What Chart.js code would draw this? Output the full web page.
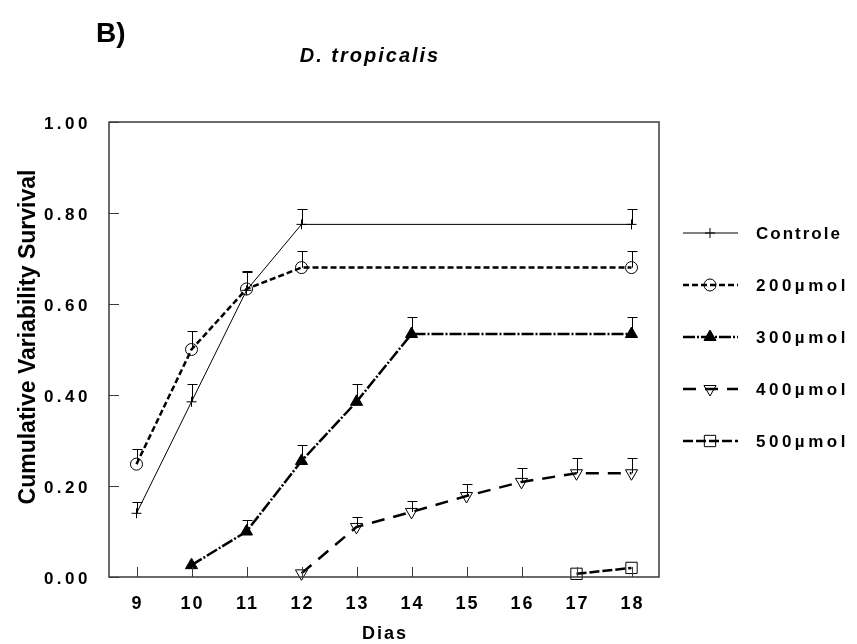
<!DOCTYPE html>
<html>
<head>
<meta charset="utf-8">
<script src="https://cdn.jsdelivr.net/npm/chart.js@4.4.1/dist/chart.umd.min.js"></script>
<style>
  html, body { margin: 0; padding: 0; background: #fff; }
  #wrap { width: 857px; height: 644px; position: relative; }
</style>
</head>
<body>
<div id="wrap"><canvas id="chart"></canvas></div>
<script>
// dias no eixo x e marcas do eixo y
const dias = [9, 10, 11, 12, 13, 14, 15, 16, 17, 18];
const yTicks = [0, 0.2, 0.4, 0.6, 0.8, 1.0];

// series (valor medio + erro superior)
const controleDias = [9, 10, 11, 12, 18];
const controle     = [0.14, 0.385, 0.63, 0.775, 0.775];
const controleErr  = [0.025, 0.04, 0.04, 0.034, 0.034];

const s200Dias = [9, 10, 11, 12, 18];
const s200     = [0.248, 0.50, 0.633, 0.68, 0.68];
const s200Err  = [0.033, 0.04, 0.04, 0.037, 0.037];

const s300Dias = [10, 11, 12, 13, 14, 18];
const s300     = [0.026, 0.10, 0.255, 0.385, 0.534, 0.534];
const s300Err  = [0, 0.025, 0.035, 0.04, 0.037, 0.037];

const s400Dias = [12, 13, 14, 15, 16, 17, 18];
const s400     = [0.008, 0.11, 0.143, 0.178, 0.209, 0.228, 0.228];
const s400Err  = [0, 0.022, 0.024, 0.026, 0.031, 0.034, 0.034];

const s500Dias = [17, 18];
const s500     = [0.007, 0.02];
const s500Err  = [0, 0];

const labels = ['Controle', '200µmol', '300µmol', '400µmol', '500µmol'];

const FONT = '"Liberation Sans", Arial, sans-serif';

function pts(xs, ys) {
  return xs.map((x, i) => ({ x: x, y: ys[i] }));
}

const series = [
  { data: pts(controleDias, controle), err: controleErr, width: 1, dash: [], style: 'cross', radius: 5, rot: 0, fill: 'rgba(0,0,0,0)' },
  { data: pts(s200Dias, s200), err: s200Err, width: 2.5, dash: [6, 3], style: 'circle', radius: 6, rot: 0, fill: 'rgba(0,0,0,0)' },
  { data: pts(s300Dias, s300), err: s300Err, width: 2.5, dash: [12, 2, 2, 2], style: 'triangle', radius: 7, rot: 0, fill: '#000' },
  { data: pts(s400Dias, s400), err: s400Err, width: 2.5, dash: [13, 9], style: 'triangle', radius: 7, rot: 180, fill: 'rgba(0,0,0,0)' },
  { data: pts(s500Dias, s500), err: s500Err, width: 2.5, dash: [10, 3], style: 'rect', radius: 8, rot: 0, fill: 'rgba(0,0,0,0)' }
];

const datasets = series.map((s, i) => ({
  label: labels[i],
  data: s.data,
  borderColor: '#000',
  borderWidth: s.width,
  borderDash: s.dash,
  pointStyle: s.style,
  pointRadius: s.radius,
  pointRotation: s.rot,
  pointBackgroundColor: s.fill,
  pointBorderColor: '#000',
  pointBorderWidth: 1,
  tension: 0,
  clip: false,
  fill: false
}));

function spaced(ctx, text, x, y, spacing) {
  ctx.letterSpacing = spacing + 'px';
  ctx.fillText(text, x, y);
  ctx.letterSpacing = '0px';
}

const decor = {
  id: 'decor',
  afterDatasetsDraw(chart) {
    const ctx = chart.ctx;
    const xs = chart.scales.x, ys = chart.scales.y;
    // barras de erro (so a parte superior)
    ctx.save();
    ctx.strokeStyle = '#000';
    ctx.lineWidth = 1;
    ctx.setLineDash([]);
    series.forEach(s => {
      s.data.forEach((p, i) => {
        if (!s.err[i]) return;
        const px = Math.round(xs.getPixelForValue(p.x)) + 0.5;
        const py = ys.getPixelForValue(p.y);
        const top = Math.round(ys.getPixelForValue(p.y + s.err[i])) + 0.5;
        ctx.beginPath();
        ctx.moveTo(px, py);
        ctx.lineTo(px, top);
        ctx.moveTo(px - 5, top);
        ctx.lineTo(px + 5, top);
        ctx.stroke();
      });
    });
    ctx.restore();
  },
  afterDraw(chart) {
    const ctx = chart.ctx;
    const a = chart.chartArea;
    const xs = chart.scales.x, ys = chart.scales.y;
    ctx.save();
    // caixa do grafico
    ctx.strokeStyle = '#3a3a3a';
    ctx.lineWidth = 1.5;
    ctx.setLineDash([]);
    ctx.strokeRect(a.left, a.top, a.right - a.left, a.bottom - a.top);
    // marcas internas
    ctx.lineWidth = 1;
    yTicks.forEach(v => {
      const y = Math.round(ys.getPixelForValue(v)) + 0.5;
      ctx.beginPath();
      ctx.moveTo(a.left, y);
      ctx.lineTo(a.left + 10, y);
      ctx.stroke();
    });
    dias.forEach(d => {
      const x = Math.round(xs.getPixelForValue(d)) + 0.5;
      ctx.beginPath();
      ctx.moveTo(x, a.bottom);
      ctx.lineTo(x, a.bottom - 10);
      ctx.stroke();
    });
    // rotulos
    ctx.fillStyle = '#000';
    ctx.font = 'bold 17px ' + FONT;
    ctx.textAlign = 'right';
    ctx.textBaseline = 'middle';
    yTicks.forEach(v => {
      spaced(ctx, v.toFixed(2), a.left - 18, ys.getPixelForValue(v) + 2, 3.5);
    });
    ctx.font = 'bold 18px ' + FONT;
    ctx.textAlign = 'center';
    ctx.textBaseline = 'alphabetic';
    dias.forEach(d => {
      spaced(ctx, String(d), xs.getPixelForValue(d) + 1, 609, 2);
    });
    spaced(ctx, 'Dias', (a.left + a.right) / 2 + 1, 639, 2);
    // titulo do eixo y
    ctx.save();
    ctx.translate(35, 337);
    ctx.rotate(-Math.PI / 2);
    ctx.font = 'bold 23px ' + FONT;
    ctx.textAlign = 'center';
    ctx.fillText('Cumulative Variability Survival', 0, 0);
    ctx.restore();
    // titulos
    ctx.font = 'bold 28px ' + FONT;
    ctx.textAlign = 'left';
    ctx.fillText('B)', 96, 42);
    ctx.font = 'italic bold 20px ' + FONT;
    ctx.textAlign = 'center';
    spaced(ctx, 'D. tropicalis', 370, 62, 2);
    // legenda
    const legY = [233, 285, 337, 389, 441];
    series.forEach((s, i) => {
      const y = legY[i];
      ctx.strokeStyle = '#000';
      ctx.lineWidth = s.width;
      ctx.setLineDash(s.dash);
      ctx.beginPath();
      ctx.moveTo(683, y);
      ctx.lineTo(738, y);
      ctx.stroke();
      ctx.setLineDash([]);
      ctx.lineWidth = 1;
      ctx.fillStyle = s.fill;
      Chart.helpers.drawPoint(ctx, { pointStyle: s.style, radius: s.radius, rotation: s.rot, borderWidth: 1 }, 710, y);
      ctx.fillStyle = '#000';
      ctx.font = 'bold 17px ' + FONT;
      ctx.textAlign = 'left';
      ctx.textBaseline = 'middle';
      spaced(ctx, labels[i], 756, y + 1, i === 0 ? 2 : 3.5);
    });
    ctx.restore();
  }
};

new Chart(document.getElementById('chart'), {
  type: 'line',
  data: { datasets: datasets },
  options: {
    responsive: true,
    maintainAspectRatio: false,
    animation: false,
    layout: { padding: { left: 109, top: 122, right: 198, bottom: 67 } },
    scales: {
      x: { type: 'linear', min: 8.5, max: 18.5, display: false },
      y: { type: 'linear', min: 0, max: 1, display: false }
    },
    plugins: {
      legend: { display: false },
      tooltip: { enabled: false },
      title: { display: false }
    }
  },
  plugins: [decor]
});
</script>
</body>
</html>
